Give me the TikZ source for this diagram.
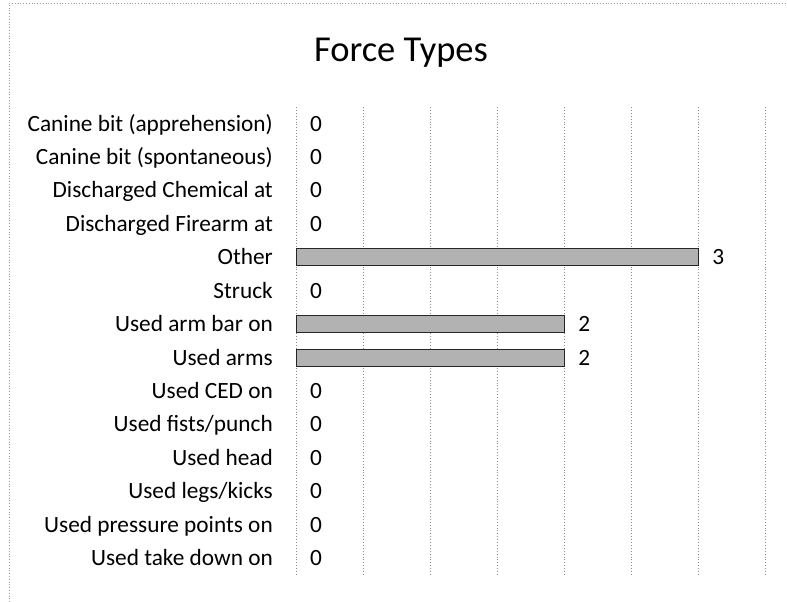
\documentclass[tikz,border=0pt]{standalone}
\usepackage{fontspec}
\setmainfont{Carlito}
\begin{document}
\begin{tikzpicture}[x=1pt,y=-1pt,
  catlabel/.style={anchor=base east,inner sep=0pt,font=\fontsize{23.3}{28}\selectfont},
  vallabel/.style={anchor=base,inner sep=0pt,font=\fontsize{23.3}{28}\selectfont},
  titlelabel/.style={anchor=base,inner sep=0pt,font=\fontsize{36.5}{44}\selectfont},
  gridline/.style={draw=black!45,dotted,line width=0.9pt},
  framestyle/.style={draw=black!40,dotted,line width=0.8pt},
  barstyle/.style={draw=black!85,line width=1pt,fill=black!30}]
\useasboundingbox (0,0) rectangle (787,602);
% frame (top and left edges)
\draw[framestyle] (9,602) -- (9,3) -- (787,3);
% title
\node[titlelabel] (title) at (401,62) {Force Types};
% gridlines
\foreach \k in {0,...,7}{
  \coordinate (gt\k) at ({296+67.05*\k},107);
  \coordinate (gb\k) at ({296+67.05*\k},575);
  \draw[gridline] (gt\k) -- (gb\k);
}
% bars and labels
\foreach \i/\name/\v in {
  0/Canine bit (apprehension)/0,
  1/Canine bit (spontaneous)/0,
  2/Discharged Chemical at/0,
  3/Discharged Firearm at/0,
  4/Other/3,
  5/Struck/0,
  6/Used arm bar on/2,
  7/Used arms/2,
  8/Used CED on/0,
  9/Used fists\slash punch/0,
  10/Used head/0,
  11/Used legs\slash kicks/0,
  12/Used pressure points on/0,
  13/Used take down on/0}{
  \pgfmathsetmacro{\yy}{123.7+33.43*\i}
  \pgfmathsetmacro{\xe}{296+134.1*\v}
  \node[catlabel] (cat\i) at (273,\yy+7.4) {\name};
  \ifnum\v>0
    \path[barstyle] (296,\yy-8.5) rectangle (\xe,\yy+8.5);
  \fi
  \node[vallabel] (val\i) at (\xe+20,\yy+7.4) {\v};
}
\end{tikzpicture}
\end{document}
